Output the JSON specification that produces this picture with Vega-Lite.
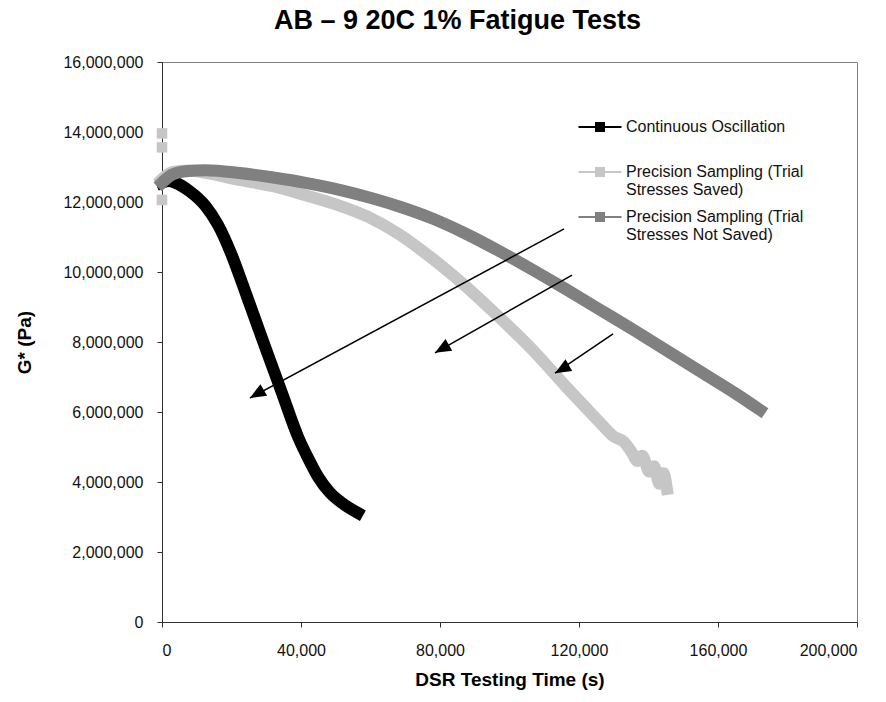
{
  "$schema": "https://vega.github.io/schema/vega-lite/v6.json",
  "width": 695,
  "height": 560,
  "autosize": "none",
  "padding": {"left": 162, "top": 62, "right": 29, "bottom": 80},
  "background": "white",
  "config": {
    "font": "Liberation Sans",
    "view": {"stroke": "#808080", "strokeWidth": 1},
    "axis": {
      "grid": false,
      "domainColor": "#303030",
      "tickColor": "#303030",
      "labelColor": "#111111",
      "labelFontSize": 16,
      "labelFont": "Liberation Sans",
      "titleFont": "Liberation Sans",
      "titleFontWeight": "bold",
      "titleColor": "#000000",
      "tickSize": 5
    }
  },
  "title": {
    "text": "AB – 9 20C 1% Fatigue Tests",
    "fontSize": 27,
    "fontWeight": "bold",
    "font": "Liberation Sans",
    "color": "#000000",
    "offset": -2,
    "baseline": "alphabetic",
    "anchor": "middle",
    "dx": -52
  },
  "datasets": {
    "curves": [
      {"series": "Continuous Oscillation", "time": 0, "g": 12550000},
      {"series": "Continuous Oscillation", "time": 1940, "g": 12600000},
      {"series": "Continuous Oscillation", "time": 3880, "g": 12550000},
      {"series": "Continuous Oscillation", "time": 8050, "g": 12300000},
      {"series": "Continuous Oscillation", "time": 12400, "g": 11900000},
      {"series": "Continuous Oscillation", "time": 16100, "g": 11350000},
      {"series": "Continuous Oscillation", "time": 20200, "g": 10450000},
      {"series": "Continuous Oscillation", "time": 23000, "g": 9700000},
      {"series": "Continuous Oscillation", "time": 25900, "g": 8900000},
      {"series": "Continuous Oscillation", "time": 28800, "g": 8100000},
      {"series": "Continuous Oscillation", "time": 31000, "g": 7500000},
      {"series": "Continuous Oscillation", "time": 34500, "g": 6550000},
      {"series": "Continuous Oscillation", "time": 39100, "g": 5300000},
      {"series": "Continuous Oscillation", "time": 42200, "g": 4650000},
      {"series": "Continuous Oscillation", "time": 44900, "g": 4150000},
      {"series": "Continuous Oscillation", "time": 48300, "g": 3700000},
      {"series": "Continuous Oscillation", "time": 51800, "g": 3400000},
      {"series": "Continuous Oscillation", "time": 56300, "g": 3120000},
      {"series": "Precision Sampling (Trial Stresses Saved)", "time": 0, "g": 12650000},
      {"series": "Precision Sampling (Trial Stresses Saved)", "time": 2900, "g": 12850000},
      {"series": "Precision Sampling (Trial Stresses Saved)", "time": 7760, "g": 12900000},
      {"series": "Precision Sampling (Trial Stresses Saved)", "time": 12600, "g": 12830000},
      {"series": "Precision Sampling (Trial Stresses Saved)", "time": 22300, "g": 12630000},
      {"series": "Precision Sampling (Trial Stresses Saved)", "time": 32000, "g": 12450000},
      {"series": "Precision Sampling (Trial Stresses Saved)", "time": 41700, "g": 12180000},
      {"series": "Precision Sampling (Trial Stresses Saved)", "time": 50400, "g": 11920000},
      {"series": "Precision Sampling (Trial Stresses Saved)", "time": 59200, "g": 11580000},
      {"series": "Precision Sampling (Trial Stresses Saved)", "time": 67900, "g": 11100000},
      {"series": "Precision Sampling (Trial Stresses Saved)", "time": 77600, "g": 10400000},
      {"series": "Precision Sampling (Trial Stresses Saved)", "time": 87300, "g": 9600000},
      {"series": "Precision Sampling (Trial Stresses Saved)", "time": 97000, "g": 8710000},
      {"series": "Precision Sampling (Trial Stresses Saved)", "time": 106700, "g": 7770000},
      {"series": "Precision Sampling (Trial Stresses Saved)", "time": 116400, "g": 6710000},
      {"series": "Precision Sampling (Trial Stresses Saved)", "time": 121250, "g": 6200000},
      {"series": "Precision Sampling (Trial Stresses Saved)", "time": 126100, "g": 5690000},
      {"series": "Precision Sampling (Trial Stresses Saved)", "time": 130000, "g": 5300000},
      {"series": "Precision Sampling (Trial Stresses Saved)", "time": 132900, "g": 5150000},
      {"series": "Precision Sampling (Trial Stresses Saved)", "time": 135300, "g": 4830000},
      {"series": "Precision Sampling (Trial Stresses Saved)", "time": 136800, "g": 4600000},
      {"series": "Precision Sampling (Trial Stresses Saved)", "time": 138200, "g": 4750000},
      {"series": "Precision Sampling (Trial Stresses Saved)", "time": 140200, "g": 4300000},
      {"series": "Precision Sampling (Trial Stresses Saved)", "time": 141600, "g": 4450000},
      {"series": "Precision Sampling (Trial Stresses Saved)", "time": 143100, "g": 3950000},
      {"series": "Precision Sampling (Trial Stresses Saved)", "time": 144300, "g": 4250000},
      {"series": "Precision Sampling (Trial Stresses Saved)", "time": 145300, "g": 3800000},
      {"series": "Precision Sampling (Trial Stresses Not Saved)", "time": 0, "g": 12550000},
      {"series": "Precision Sampling (Trial Stresses Not Saved)", "time": 2900, "g": 12780000},
      {"series": "Precision Sampling (Trial Stresses Not Saved)", "time": 6800, "g": 12880000},
      {"series": "Precision Sampling (Trial Stresses Not Saved)", "time": 12600, "g": 12910000},
      {"series": "Precision Sampling (Trial Stresses Not Saved)", "time": 22300, "g": 12830000},
      {"series": "Precision Sampling (Trial Stresses Not Saved)", "time": 32000, "g": 12700000},
      {"series": "Precision Sampling (Trial Stresses Not Saved)", "time": 41700, "g": 12540000},
      {"series": "Precision Sampling (Trial Stresses Not Saved)", "time": 51400, "g": 12340000},
      {"series": "Precision Sampling (Trial Stresses Not Saved)", "time": 60700, "g": 12100000},
      {"series": "Precision Sampling (Trial Stresses Not Saved)", "time": 68900, "g": 11850000},
      {"series": "Precision Sampling (Trial Stresses Not Saved)", "time": 78000, "g": 11520000},
      {"series": "Precision Sampling (Trial Stresses Not Saved)", "time": 87300, "g": 11100000},
      {"series": "Precision Sampling (Trial Stresses Not Saved)", "time": 97000, "g": 10600000},
      {"series": "Precision Sampling (Trial Stresses Not Saved)", "time": 106700, "g": 10060000},
      {"series": "Precision Sampling (Trial Stresses Not Saved)", "time": 116400, "g": 9500000},
      {"series": "Precision Sampling (Trial Stresses Not Saved)", "time": 126100, "g": 8920000},
      {"series": "Precision Sampling (Trial Stresses Not Saved)", "time": 135800, "g": 8340000},
      {"series": "Precision Sampling (Trial Stresses Not Saved)", "time": 145500, "g": 7740000},
      {"series": "Precision Sampling (Trial Stresses Not Saved)", "time": 155200, "g": 7140000},
      {"series": "Precision Sampling (Trial Stresses Not Saved)", "time": 164900, "g": 6540000},
      {"series": "Precision Sampling (Trial Stresses Not Saved)", "time": 172100, "g": 6060000}
    ],
    "outliers": [
      {"series": "Precision Sampling (Trial Stresses Saved)", "time": 0, "g": 13960000},
      {"series": "Precision Sampling (Trial Stresses Saved)", "time": 0, "g": 13560000},
      {"series": "Precision Sampling (Trial Stresses Saved)", "time": 0, "g": 12060000}
    ],
    "arrows": [
      {"time": 25300, "g": 6400000, "time2": 115700, "g2": 11230000},
      {"time": 78560, "g": 7690000, "time2": 118000, "g2": 9910000},
      {"time": 113100, "g": 7110000, "time2": 129800, "g2": 8230000}
    ]
  },
  "encoding": {
    "x": {
      "field": "time",
      "type": "quantitative",
      "scale": {"domain": [0, 200000], "nice": false},
      "axis": {
        "values": [0, 40000, 80000, 120000, 160000, 200000],
        "format": ",.0f",
        "labelExpr": "replace(format(datum.value, ',.0f'), /e.*/, '')",
        "title": "DSR Testing Time (s)",
        "titleFontSize": 19,
        "labelPadding": 15,
        "titlePadding": 12
      }
    },
    "y": {
      "field": "g",
      "type": "quantitative",
      "scale": {"domain": [0, 16000000], "nice": false},
      "axis": {
        "values": [0, 2000000, 4000000, 6000000, 8000000, 10000000, 12000000, 14000000, 16000000],
        "format": ",.0f",
        "labelExpr": "format(datum.value, ',.0f')",
        "title": "G* (Pa)",
        "titleFontSize": 19,
        "labelPadding": 14,
        "titlePadding": 28
      }
    }
  },
  "layer": [
    {
      "data": {"name": "curves"},
      "mark": {"type": "line", "strokeWidth": 12, "interpolate": "monotone", "strokeCap": "square", "strokeJoin": "miter", "strokeMiterLimit": 2},
      "encoding": {
        "color": {
          "field": "series",
          "type": "nominal",
          "scale": {
            "domain": ["Continuous Oscillation", "Precision Sampling (Trial Stresses Saved)", "Precision Sampling (Trial Stresses Not Saved)"],
            "range": ["#000000", "#c6c6c6", "#808080"]
          },
          "legend": {
            "orient": "none",
            "legendX": 430,
            "legendY": 49,
            "title": null,
            "padding": 0,
            "symbolType": "M-4.3,1.6H4.3M-0.8,0.8H0.8V2.4H-0.8Z",
            "symbolSize": 100,
            "symbolStrokeWidth": 2,
            "labelFontSize": 16,
            "labelColor": "#111111",
            "labelOffset": 18,
            "labelLimit": 400,
            "rowPadding": 3,
            "labelExpr": "datum.label == 'Continuous Oscillation' ? [datum.label, ' '] : split(replace(datum.label, '(Trial ', '(Trial|'), '|')",
            "labelBaseline": "top",
            "encode": {
              "symbols": {"update": {"fill": {"scale": "color", "field": "value"}, "stroke": {"scale": "color", "field": "value"}}},
              "labels": {"update": {"lineHeight": {"value": 17.5}}}
            }
          }
        }
      }
    },
    {
      "data": {"name": "outliers"},
      "mark": {"type": "point", "shape": "square", "filled": true, "size": 110, "color": "#c6c6c6", "opacity": 1}
    },
    {
      "data": {"name": "arrows"},
      "mark": {"type": "rule", "color": "#000000", "strokeWidth": 1.5},
      "encoding": {
        "x2": {"field": "time2"},
        "y2": {"field": "g2"}
      }
    },
    {
      "data": {"name": "arrows"},
      "mark": {"type": "point", "shape": "M0,0L0.42,1L-0.42,1Z", "filled": true, "size": 1024, "angle": 240, "color": "#000000", "opacity": 1}
    }
  ]
}
